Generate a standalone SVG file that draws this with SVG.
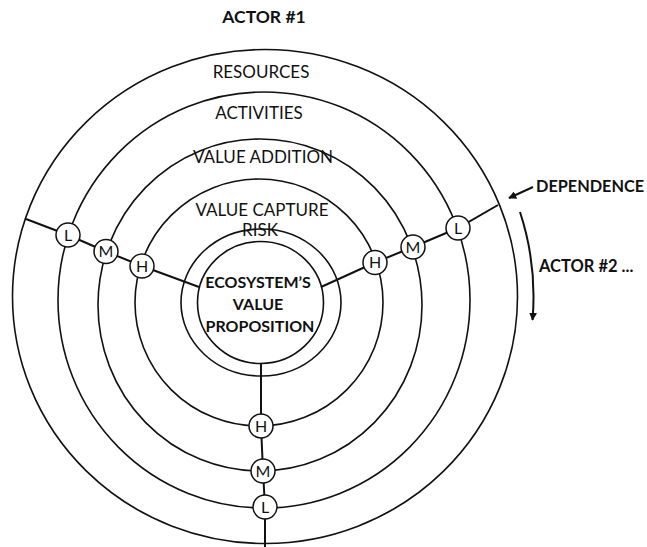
<svg xmlns="http://www.w3.org/2000/svg" width="647" height="547" viewBox="0 0 647 547">
  <defs>
    <style>
      .ring { fill: none; stroke: #111; stroke-width: 1.6; }
      .link { fill: none; stroke: #111; stroke-width: 2; }
      .node circle { fill: #fff; stroke: #111; stroke-width: 1.5; }
      .node text { font-family: Lato, "Open Sans", sans-serif; font-size: 16px; fill: #111; text-anchor: middle; }
      .lbl { font-family: Lato, "Open Sans", sans-serif; font-size: 17px; fill: #111; text-anchor: middle; }
      .bold { font-family: Lato, "Open Sans", sans-serif; font-weight: bold; fill: #111; }
    </style>
    <marker id="head" viewBox="0 0 10 10" refX="9" refY="5" markerWidth="8" markerHeight="8" markerUnits="userSpaceOnUse" orient="auto">
      <path d="M0,0 L10,5 L0,10 Z" fill="#111"/>
    </marker>
  </defs>

  <rect width="647" height="547" fill="#fff"/>

  <!-- concentric layers -->
  <g id="rings">
    <ellipse id="ring-resources" class="ring" cx="265" cy="296.5" rx="252.5" ry="247"/>
    <ellipse id="ring-activities" class="ring" cx="264" cy="300" rx="206" ry="208"/>
    <ellipse id="ring-value-addition" class="ring" cx="260" cy="305" rx="162" ry="166"/>
    <ellipse id="ring-value-capture" class="ring" cx="259" cy="302.5" rx="124" ry="123.5"/>
    <ellipse id="ring-risk" class="ring" cx="261" cy="302.5" rx="80" ry="73.5"/>
    <ellipse id="ring-core" class="ring" cx="260.5" cy="302.5" rx="63" ry="61"/>
  </g>

  <!-- actor spokes -->
  <g id="connectors">
    <polyline class="link" points="199,287 142,266 106,251.5 68,235 26,219"/>
    <polyline class="link" points="321,287 375,262.5 413,247 458,228 498,205"/>
    <polyline class="link" points="261,363.5 261,426 263,471 265,507 265,547"/>
    <line class="link" x1="533" y1="187" x2="509" y2="198" stroke-width="1.6" marker-end="url(#head)"/>
    <path class="link" d="M520,212 A272,272 0 0 1 532.5,320" stroke-width="1.6" marker-end="url(#head)"/>
  </g>

  <!-- layer labels -->
  <g id="labels">
    <text class="bold" x="264" y="23" font-size="17.5" text-anchor="middle">ACTOR #1</text>
    <text class="lbl" x="261" y="78">RESOURCES</text>
    <text class="lbl" x="259" y="118.7">ACTIVITIES</text>
    <text class="lbl" x="263" y="163.4">VALUE ADDITION</text>
    <text class="lbl" x="262" y="216">VALUE CAPTURE</text>
    <text class="lbl" x="260" y="236" font-size="12">RISK</text>
    <text class="bold" x="536" y="192" font-size="16.3">DEPENDENCE</text>
    <text class="bold" x="539" y="272" font-size="16.5">ACTOR #2 ...</text>
  </g>

  <g id="core">
    <text class="bold" font-size="16" text-anchor="middle">
      <tspan x="260" y="288.2">ECOSYSTEM’S</tspan>
      <tspan x="260" y="309.7">VALUE</tspan>
      <tspan x="260" y="331.7">PROPOSITION</tspan>
    </text>
  </g>

  <!-- dependence level markers: left spoke -->
  <g id="left-L" class="node"><circle cx="68" cy="235" r="12"/><text x="68" y="240.7">L</text></g>
  <g id="left-M" class="node"><circle cx="106" cy="251.5" r="12"/><text x="106" y="257.2">M</text></g>
  <g id="left-H" class="node"><circle cx="142" cy="266" r="12"/><text x="142" y="271.7">H</text></g>

  <!-- right spoke -->
  <g id="right-H" class="node"><circle cx="375" cy="262.5" r="12"/><text x="375" y="268.2">H</text></g>
  <g id="right-M" class="node"><circle cx="413" cy="247" r="12"/><text x="413" y="252.7">M</text></g>
  <g id="right-L" class="node"><circle cx="458" cy="228" r="12"/><text x="458" y="233.7">L</text></g>

  <!-- bottom spoke -->
  <g id="bottom-H" class="node"><circle cx="261" cy="426" r="12"/><text x="261" y="431.7">H</text></g>
  <g id="bottom-M" class="node"><circle cx="263" cy="471" r="12"/><text x="263" y="476.7">M</text></g>
  <g id="bottom-L" class="node"><circle cx="265" cy="507" r="12"/><text x="265" y="512.7">L</text></g>
</svg>
